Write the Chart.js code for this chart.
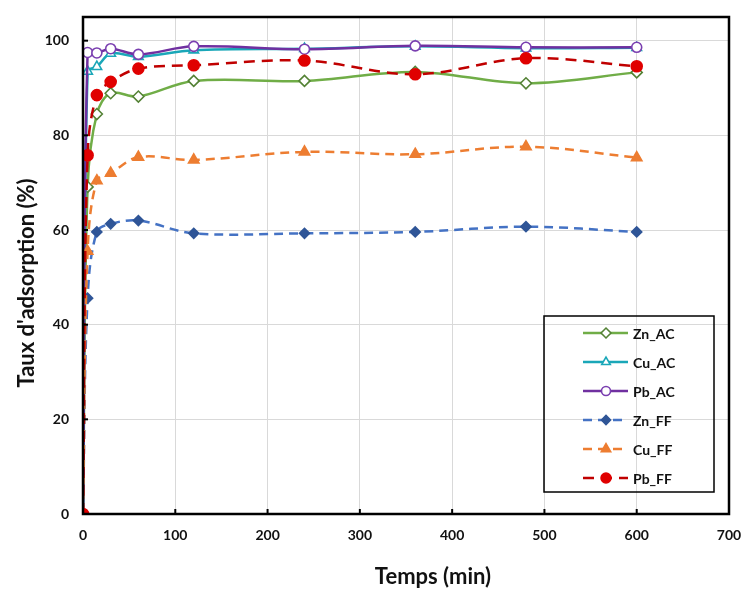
<!DOCTYPE html>
<html>
<head>
<meta charset="utf-8">
<script src="https://cdn.jsdelivr.net/npm/chart.js@4.4.1/dist/chart.umd.min.js"></script>
<style>
html,body{margin:0;padding:0;background:#fff;}
#wrap{width:744px;height:589px;position:relative;}
</style>
</head>
<body>
<div id="wrap"><canvas id="c" width="744" height="589"></canvas></div>
<script>
// ---- data ----
const times = [0, 5, 15, 30, 60, 120, 240, 360, 480, 600];
const seriesNames = ['Zn_AC', 'Cu_AC', 'Pb_AC', 'Zn_FF', 'Cu_FF', 'Pb_FF'];
const znAC = [0, 69.1, 84.5, 88.9, 88.2, 91.5, 91.5, 93.4, 91.0, 93.3];
const cuAC = [0, 93.5, 94.5, 97.3, 96.6, 98.0, 98.3, 98.8, 98.4, 98.5];
const pbAC = [0, 97.5, 97.4, 98.3, 97.1, 98.8, 98.2, 98.9, 98.6, 98.6];
const znFF = [0, 45.6, 59.6, 61.3, 62.0, 59.3, 59.3, 59.6, 60.7, 59.6];
const cuFF = [0, 55.5, 70.4, 72.0, 75.4, 74.8, 76.5, 76.0, 77.6, 75.3];
const pbFF = [0, 75.8, 88.5, 91.3, 94.1, 94.8, 95.8, 92.9, 96.3, 94.6];
const xTicks = [0, 100, 200, 300, 400, 500, 600, 700];
const yTicks = [0, 20, 40, 60, 80, 100];
const xTitle = 'Temps (min)';
const yTitle = "Taux d'adsorption (%)";

const allValues = [znAC, cuAC, pbAC, znFF, cuFF, pbFF];
const styles = [
  {line:'#70AD47', mark:'#548235', fill:'#ffffff', ps:'rectRot', r:5.5, dash:[]},
  {line:'#1AA7B8', mark:'#1AA7B8', fill:'#ffffff', ps:'triangle', r:5.5, dash:[]},
  {line:'#7030A0', mark:'#7A3FB0', fill:'#ffffff', ps:'circle', r:5, dash:[]},
  {line:'#4472C4', mark:'#2F5597', fill:'#2F5597', ps:'rectRot', r:5, dash:[9,6]},
  {line:'#ED7D31', mark:'#ED7D31', fill:'#ED7D31', ps:'triangle', r:6, dash:[9,6]},
  {line:'#C00000', mark:'#E00000', fill:'#E00000', ps:'circle', r:5.5, dash:[11,7]}
];

const datasets = seriesNames.map((name, i) => ({
  label: name,
  data: times.map((t, j) => ({x: t, y: allValues[i][j]})),
  borderColor: styles[i].line,
  borderWidth: 2.5,
  borderDash: styles[i].dash,
  pointStyle: styles[i].ps,
  pointRadius: styles[i].r,
  pointBorderColor: styles[i].mark,
  pointBackgroundColor: styles[i].fill,
  pointBorderWidth: 1.6,
  tension: 0.35,
  fill: false,
  order: 6 - i
}));

const framePlugin = {
  id: 'frame',
  afterDraw(chart) {
    const ctx = chart.ctx;
    const a = chart.chartArea;
    const xs = chart.scales.x, ys = chart.scales.y;
    ctx.save();
    // inner tick marks
    ctx.strokeStyle = '#000';
    ctx.lineWidth = 2;
    ys.ticks.forEach(t => {
      const p = ys.getPixelForValue(t.value);
      ctx.beginPath(); ctx.moveTo(a.left, p); ctx.lineTo(a.left + 5, p); ctx.stroke();
    });
    xs.ticks.forEach(t => {
      const p = xs.getPixelForValue(t.value);
      ctx.beginPath(); ctx.moveTo(p, a.bottom); ctx.lineTo(p, a.bottom - 5); ctx.stroke();
    });
    // frame
    ctx.lineWidth = 2.5;
    ctx.strokeRect(a.left, a.top, a.right - a.left, a.bottom - a.top);
    // axis titles
    ctx.fillStyle = '#111';
    ctx.font = 'bold 22px Lato, "Open Sans", sans-serif';
    ctx.textAlign = 'center';
    ctx.textBaseline = 'middle';
    ctx.fillText(xTitle, 433, 577, 176);
    ctx.translate(27, 283);
    ctx.rotate(-Math.PI / 2);
    ctx.fillText(yTitle, 0, 0, 228);
    ctx.restore();

    // legend
    ctx.save();
    const bx = 544, by = 316, bw = 170, bh = 176;
    ctx.strokeStyle = '#000';
    ctx.lineWidth = 1.5;
    ctx.strokeRect(bx, by, bw, bh);
    chart.data.datasets.forEach((ds, i) => {
      const y = 333 + i * 29;
      ctx.setLineDash(ds.borderDash);
      ctx.strokeStyle = ds.borderColor;
      ctx.lineWidth = 2.5;
      ctx.beginPath(); ctx.moveTo(583, y); ctx.lineTo(628, y); ctx.stroke();
      ctx.setLineDash([]);
      ctx.fillStyle = ds.pointBackgroundColor;
      ctx.strokeStyle = ds.pointBorderColor;
      ctx.lineWidth = ds.pointBorderWidth;
      Chart.helpers.drawPoint(ctx, {pointStyle: ds.pointStyle, radius: ds.pointRadius * 0.9, borderWidth: ds.pointBorderWidth, rotation: 0}, 606, y);
      ctx.fillStyle = '#111';
      ctx.font = 'bold 14px Lato, "Open Sans", sans-serif';
      ctx.textAlign = 'left';
      ctx.textBaseline = 'middle';
      ctx.fillText(ds.label, 633, y + 1);
    });
    ctx.restore();
  }
};

function noPad(s) { s.paddingLeft = 0; s.paddingRight = 0; s.paddingTop = 0; s.paddingBottom = 0; }

new Chart(document.getElementById('c'), {
  type: 'line',
  data: {datasets},
  options: {
    responsive: false,
    animation: false,
    devicePixelRatio: 1,
    layout: {padding: {left: 0, top: 17, right: 15, bottom: 0}},
    plugins: {legend: {display: false}, tooltip: {enabled: false}},
    scales: {
      x: {
        type: 'linear', min: 0, max: 700,
        afterFit(s) { s.height = 75; noPad(s); },
        afterBuildTicks(s) { s.ticks = xTicks.map(v => ({value: v})); },
        grid: {color: '#D9D9D9', lineWidth: 1, drawTicks: false},
        border: {display: false},
        ticks: {padding: 13, color: '#111', font: {family: 'Lato, "Open Sans", sans-serif', size: 14, weight: 'bold'}}
      },
      y: {
        type: 'linear', min: 0, max: 105,
        afterFit(s) { s.width = 83; noPad(s); },
        afterBuildTicks(s) { s.ticks = yTicks.map(v => ({value: v})); },
        grid: {color: '#D9D9D9', lineWidth: 1, drawTicks: false},
        border: {display: false},
        ticks: {padding: 14, color: '#111', font: {family: 'Lato, "Open Sans", sans-serif', size: 14, weight: 'bold'}}
      }
    }
  },
  plugins: [framePlugin]
});
</script>
</body>
</html>
